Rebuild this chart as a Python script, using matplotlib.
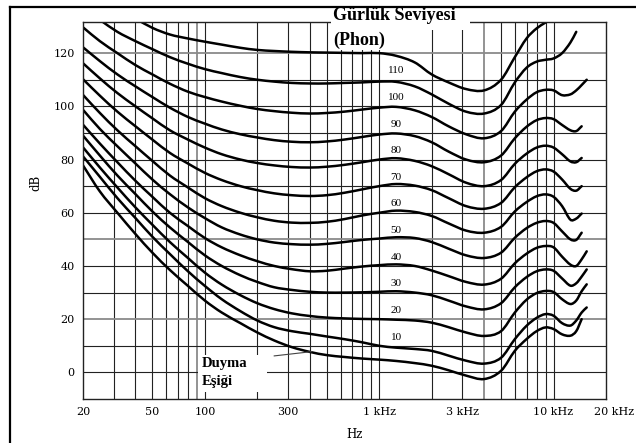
import numpy as np
import matplotlib
matplotlib.use("Agg")
import matplotlib.pyplot as plt
from matplotlib.lines import Line2D
from matplotlib.patches import Rectangle, PathPatch
from matplotlib.path import Path
from matplotlib.transforms import ScaledTranslation

nan = np.nan

freq = [20, 25, 31.5, 40, 50, 63, 80, 100, 125, 160, 200, 250, 315, 400, 500, 630, 800,
        1000, 1250, 1600, 2000, 2500, 3150, 4000, 5000, 6000, 7000, 8000, 9000, 10000,
        11200, 12500, 13500, 14500, 15500]

# sound pressure level (dB) of each equal-loudness curve
threshold = [77.8, 68, 60, 52, 45, 38.5, 32.5, 27, 22.5, 18.5, 15, 12, 9.5, 7.7, 6.5, 5.8, 5.2,
             4.8, 4.3, 3.5, 2.5, 0.8, -1.2, -2.5, 0.6, 8.1, 12.5, 15.5, 16.9, 16.3,
             14.3, 13.8, 15.5, 20.0, nan]
phon_10 = [81.2, 73.5, 65.5, 58, 51, 44.5, 38, 32.5, 27.5, 23, 19.5, 17, 15.5, 14.5, 13.5, 12.5, 11.3,
           10, 9.3, 8.8, 8.1, 6.3, 4.4, 3.3, 5.5, 12.5, 17.5, 20.5, 21.9, 21.3,
           18.5, 17.6, 19.5, 22.5, 24.4]
phon_20 = [84.6, 77, 69.5, 62, 55.5, 49, 43, 37.5, 33, 29, 26, 23.8, 22.2, 21.2, 20.6, 20.3, 20.1,
           20, 19.8, 19.5, 18.7, 17, 15, 13.7, 15.5, 22.5, 27.3, 29.8, 30.6, 30.2,
           27.5, 25.7, 27, 30.5, 33.1]
phon_30 = [89, 81.5, 74, 67, 60.5, 54.5, 49, 44, 40, 36.5, 34, 32, 31, 30.3, 30, 30, 30.1,
           30.3, 30.5, 30, 29, 27, 24.8, 23.7, 26, 32, 35.8, 38, 38.7, 38.2,
           35.3, 32.6, 33.5, 36, 38.7]
phon_40 = [93.1, 86, 79, 72, 66, 60, 55, 50.5, 47, 44, 41.8, 40, 38.8, 38, 38.2, 39, 39.8,
           40.3, 40.6, 40, 38.3, 36.2, 34, 33, 35.2, 41, 44.6, 46.8, 47.5, 47,
           43.5, 40.5, 40, 42.5, 45.5]
phon_50 = [98.7, 91.5, 85, 78.5, 72.5, 67, 62, 58, 54.5, 51.8, 50, 48.8, 48.2, 48, 48.3, 49, 49.8,
           50.3, 50.8, 50.5, 49, 46.5, 44, 43, 45, 50.6, 54.2, 56.2, 56.9, 56.2,
           53, 50, 49.8, 52.5, nan]
phon_60 = [104.3, 97.5, 91, 85, 79.5, 74, 69.5, 65.5, 62.5, 60, 58.3, 57, 56.3, 56.2, 56.6, 57.6, 59,
           60, 60.8, 60.3, 58.8, 56, 53.3, 52.5, 54.7, 60.5, 64, 66.2, 66.9, 66,
           62.5, 57.4, 57.8, 59.7, nan]
phon_70 = [110.2, 104, 98, 92.5, 87.5, 82.5, 78.5, 75, 72.3, 70, 68.5, 67.3, 66.6, 66.3, 66.6, 67.5, 68.8,
           70, 70.8, 70.2, 68.5, 65.5, 62.5, 61.5, 63.7, 69.6, 73.3, 75.6, 76.3, 75.5,
           72.5, 69, 68.3, 70, nan]
phon_80 = [116.2, 110.5, 105, 100, 95.5, 91, 87.5, 84.5, 82, 80, 78.7, 77.8, 77.2, 77, 77.3, 78, 79,
           80, 80.5, 79.5, 77.5, 74.5, 71.3, 70, 72.3, 78.4, 82.2, 84.5, 85.2, 84.5,
           82, 79.3, 79, 80.6, nan]
phon_90 = [122.2, 117, 112, 107.5, 103.5, 99.5, 96, 93.5, 91.3, 89.5, 88.3, 87.3, 86.7, 86.5, 86.8, 87.5, 88.5,
           89.4, 89.8, 88.8, 86.5, 83, 80, 79, 81.5, 88, 92.3, 94.8, 95.6, 95.2,
           93, 91, 90.7, 92.5, nan]
phon_100 = [129.7, 124.5, 120, 115.5, 112, 108.5, 105.5, 103.5, 101.8, 100.2, 99, 98.2, 97.6, 97.3, 97.5, 98, 98.8,
            99.5, 99.8, 98.5, 96, 92.5, 89.5, 88, 90.7, 98, 102.5, 105.3, 106.2, 106,
            104.2, 104.5, 106, 108, 110]
phon_110 = [nan, 132.5, 128, 124.5, 121.5, 118.5, 116, 114, 112.5, 111, 110, 109.3, 108.8, 108.6, 108.6, 108.8, 109,
            109.3, 109.2, 107.5, 104.5, 101, 98, 97.3, 100.5, 109, 114.5, 116.8, 117.5, 118,
            120, 124, 128, nan, nan]
phon_120 = [nan, nan, nan, 133, 129.5, 127, 125.5, 124.3, 123.2, 122, 121.2, 120.8, 120.5, 120.3, 120.2, 120.1, 120,
            120, 119, 116.5, 112, 109, 106.5, 106, 110, 118.5, 125.5, 129.3, 131.5, 133.5,
            nan, nan, nan, nan, nan]

curves = [threshold, phon_10, phon_20, phon_30, phon_40, phon_50, phon_60,
          phon_70, phon_80, phon_90, phon_100, phon_110, phon_120]
curve_labels = ["10", "20", "30", "40", "50", "60", "70", "80", "90", "100", "110"]
label_levels = [10, 20, 30, 40, 50, 60, 70, 80, 90, 100, 110]

xtick_pos = [20, 50, 100, 300, 1000, 3000, 10000, 20000]
xtick_txt = ["20", "50", "100", "300", "1 kHz", "3 kHz", "10 kHz", "20 kHz"]
ytick_pos = [0, 20, 40, 60, 80, 100, 120]


def smooth_path(fs, vals):
    """Hermite curve through the read points (in log-frequency space)."""
    fs = np.asarray(fs, float)
    vals = np.asarray(vals, float)
    ok = ~np.isnan(vals)
    x = np.log10(fs[ok])
    y = vals[ok]
    n = len(x)
    m = np.zeros(n)
    m[0] = (y[1] - y[0]) / (x[1] - x[0])
    m[-1] = (y[-1] - y[-2]) / (x[-1] - x[-2])
    for i in range(1, n - 1):
        m[i] = (y[i + 1] - y[i - 1]) / (x[i + 1] - x[i - 1])
    verts = [(x[0], y[0])]
    codes = [Path.MOVETO]
    for i in range(n - 1):
        h = x[i + 1] - x[i]
        verts += [(x[i] + h / 3, y[i] + m[i] * h / 3),
                  (x[i + 1] - h / 3, y[i + 1] - m[i + 1] * h / 3),
                  (x[i + 1], y[i + 1])]
        codes += [Path.CURVE4] * 3
    verts = np.array(verts)
    verts[:, 0] = 10 ** verts[:, 0]
    return Path(verts, codes)


W, H = 636, 443
fig = plt.figure(figsize=(W / 100, H / 100), dpi=100)
L, R, T, B = 83, 606, 22, 399
ax = fig.add_axes([L / W, (H - B) / H, (R - L) / W, (B - T) / H])
ax.set_xscale("log")
ax.set_xlim(20, 20000)
ax.set_ylim(-10, 131.7)

serif = "Liberation Serif"
wide_serif = "DejaVu Serif"

# grid
grid_f = [m * 10 ** k for k in range(1, 5) for m in range(1, 10)]
grid_f = [g for g in grid_f if 30 <= g <= 10000]
grey_f = [90, 4000]
for g in grid_f:
    if g in grey_f:
        ax.axvline(g, color="#8a8a8a", lw=1.3, zorder=0.5)
    else:
        ax.axvline(g, color="#222222", lw=0.8, zorder=0.5)
for lev in range(0, 130, 10):
    c, w = ("#8a8a8a", 1.3) if lev in (20, 50, 120) else ("#222222", 0.8)
    ax.axhline(lev, color=c, lw=w, zorder=0.5)

for vals in curves:
    ax.add_patch(PathPatch(smooth_path(freq, vals), facecolor="none", edgecolor="black",
                           lw=1.8, capstyle="round", zorder=2))

for txt, lev in zip(curve_labels, label_levels):
    ax.text(1250, lev + 3.3, txt, ha="center", va="center", fontsize=8,
            family=serif, zorder=4)

ax.set_xticks(xtick_pos)
ax.set_xticklabels(xtick_txt)
ax.minorticks_off()
ax.set_yticks(ytick_pos)
ax.tick_params(length=0, labelsize=8, pad=6)
for lab in ax.get_xticklabels() + ax.get_yticklabels():
    lab.set_family(wide_serif)
last = ax.get_xticklabels()[-1]
last.set_transform(last.get_transform() + ScaledTranslation(0.08, 0, fig.dpi_scale_trans))

for s in ax.spines.values():
    s.set_linewidth(1.0)
    s.set_color("#222222")

ax.set_xlabel("Hz", family=wide_serif, fontsize=8.5)
ax.xaxis.set_label_coords((355 - L) / (R - L), -(434 - B) / (B - T))
ax.xaxis.label.set_va("center")
ax.set_ylabel("dB", family=wide_serif, fontsize=8.5)
ax.yaxis.set_label_coords((42 - L) / (R - L), (B - 183) / (B - T))


def px(x, y):
    return ((x - L) / (R - L), (B - y) / (B - T))


# white masks behind the annotations
for (x0, y0, x1, y1) in [(331, 4, 470, 30), (331, 30, 391, 50), (198, 355, 267, 392)]:
    ax.add_patch(Rectangle(px(x0, y1), (x1 - x0) / (R - L), (y1 - y0) / (B - T),
                           transform=ax.transAxes, facecolor="white", edgecolor="none",
                           clip_on=False, zorder=3))

ax.text(*px(333, 16), "Gürlük Seviyesi", transform=ax.transAxes, ha="left", va="center",
        fontsize=13, fontweight="bold", family=serif, zorder=5)
ax.text(*px(333, 40), "(Phon)", transform=ax.transAxes, ha="left", va="center",
        fontsize=13, fontweight="bold", family=serif, zorder=5)
ax.text(*px(202, 363), "Duyma", transform=ax.transAxes, ha="left", va="center",
        fontsize=10.5, fontweight="bold", family=serif, zorder=5)
ax.text(*px(202, 381), "Eşiği", transform=ax.transAxes, ha="left", va="center",
        fontsize=10.5, fontweight="bold", family=serif, zorder=5)
ax.plot([250, 410], [6.2, 7.8], color="#444444", lw=0.8, zorder=2)

# outer frame (left and top edges)
fig.add_artist(Line2D([10 / W, 10 / W], [0, 1 - 7 / H], color="black", lw=1.6))
fig.add_artist(Line2D([10 / W, 1], [1 - 7 / H, 1 - 7 / H], color="black", lw=1.6))

fig.savefig("out.png", dpi=100, facecolor="white")
